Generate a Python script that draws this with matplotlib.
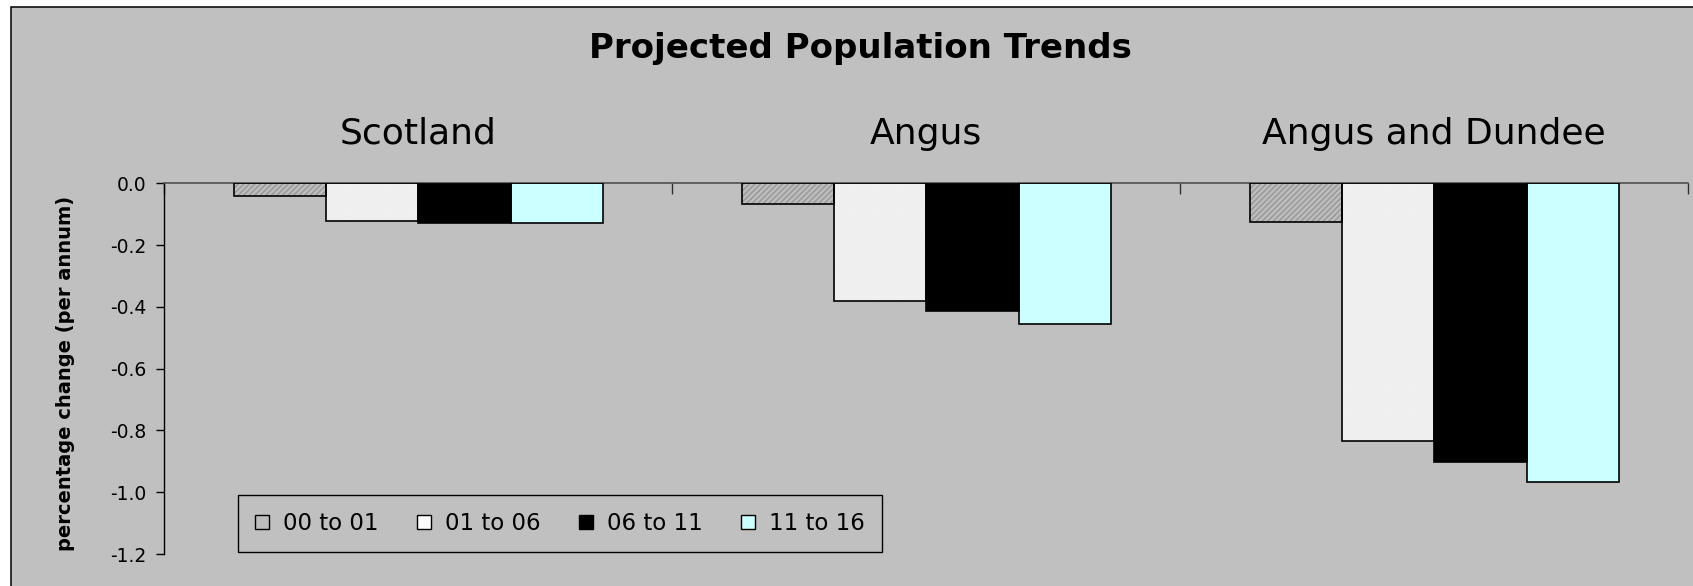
import numpy as np
from matplotlib import pyplot as plt
import matplotlib.patches as mpatches
import matplotlib.transforms as mtransforms

# Projected population trends, % change per annum

areas = ['Scotland', 'Angus', 'Angus and Dundee']
periods = ['00 to 01', '01 to 06', '06 to 11', '11 to 16']
p00_01 = [-0.042, -0.068, -0.125]
p01_06 = [-0.122, -0.381, -0.835]
p06_11 = [-0.127, -0.414, -0.902]
p11_16 = [-0.130, -0.457, -0.966]
yticks = [0.0, -0.2, -0.4, -0.6, -0.8, -1.0, -1.2]

plt.rcParams['font.family'] = ['DejaVu Sans']
plt.rcParams['axes.unicode_minus'] = False

W, H = 1693, 586
fig = plt.figure(figsize=(W / 100, H / 100), dpi=100)
fig.patch.set_facecolor('white')

# grey chart area with its thin outline (chart is cropped right and bottom)
frame = mpatches.Rectangle((10.7 / W, -0.1), 1.2, 1 - 6.7 / H + 0.1,
                           transform=fig.transFigure, facecolor='#c0c0c0',
                           edgecolor='black', linewidth=1.1, zorder=-10)
fig.patches.append(frame)

left, right, top, bottom = 164.3, 1688.3, 183.3, 554.0
ax = fig.add_axes([left / W, 1 - bottom / H, (right - left) / W, (bottom - top) / H])
ax.set_facecolor('none')

series = [p00_01, p01_06, p06_11, p11_16]
faces = ['#bdbdbd', '#fafafa', 'black', '#ccffff']
hatch_cols = ['#979797', '#e6e6e6', 'black', '#ccffff']
hatches = ['//////', '.........', None, None]

x = np.arange(len(areas)) + 0.5
w = 92.3 / 508
handles = []
for k, vals in enumerate(series):
    pos = x + (k - 1.5) * w
    ax.bar(pos, vals, width=w, color=faces[k], edgecolor=hatch_cols[k],
           hatch=hatches[k], linewidth=0, zorder=2)
    ax.bar(pos, vals, width=w, fill=False, edgecolor='black',
           linewidth=1.2, zorder=3)
    handles.append(mpatches.Patch(facecolor=faces[k], edgecolor='black',
                                  linewidth=1.0, label=periods[k]))

ax.set_xlim(0, 3)
ax.set_ylim(-1.2, 0)
ax.set_yticks(yticks)
ax.set_yticklabels(['%.1f' % v for v in yticks], fontsize=13.5)
ax.tick_params(axis='y', direction='out', length=6, width=1, pad=7)
ax.set_xticks([0, 1, 2, 3])
ax.xaxis.set_ticks_position('top')
ax.tick_params(axis='x', direction='in', length=8, width=1, labeltop=False,
               labelbottom=False, color='#303030')

for s in ['right', 'bottom']:
    ax.spines[s].set_visible(False)
ax.spines['top'].set_color('#505050')
ax.spines['top'].set_linewidth(1.2)
ax.spines['left'].set_color('black')
ax.spines['left'].set_linewidth(1.0)

ax.set_ylabel('percentage change (per annum)', fontsize=14, fontweight='bold')
ax.yaxis.set_label_coords(75 / W, 1 - 373 / H, transform=fig.transFigure)

# area names above each group
trans = mtransforms.blended_transform_factory(ax.transData, fig.transFigure)
for xi, name in zip(x, areas):
    ax.text(xi, 1 - 144 / H, name, transform=trans, ha='center',
            va='baseline', fontsize=26)

fig.text(860 / W, 1 - 58.3 / H, 'Projected Population Trends', ha='center',
         va='baseline', fontsize=24.5, fontweight='bold')

leg = fig.legend(handles=handles, loc='lower left', ncol=4,
                 bbox_to_anchor=(238 / W, 1 - 552.3 / H),
                 bbox_transform=fig.transFigure, fontsize=16.5,
                 handlelength=0.61, handleheight=0.61, handletextpad=0.61,
                 columnspacing=1.67, borderpad=0.75, borderaxespad=0,
                 fancybox=False, framealpha=1)
leg.get_frame().set_facecolor('#c0c0c0')
leg.get_frame().set_edgecolor('black')
leg.get_frame().set_linewidth(1.0)

plt.savefig('out.png', dpi=100, facecolor=fig.get_facecolor())
